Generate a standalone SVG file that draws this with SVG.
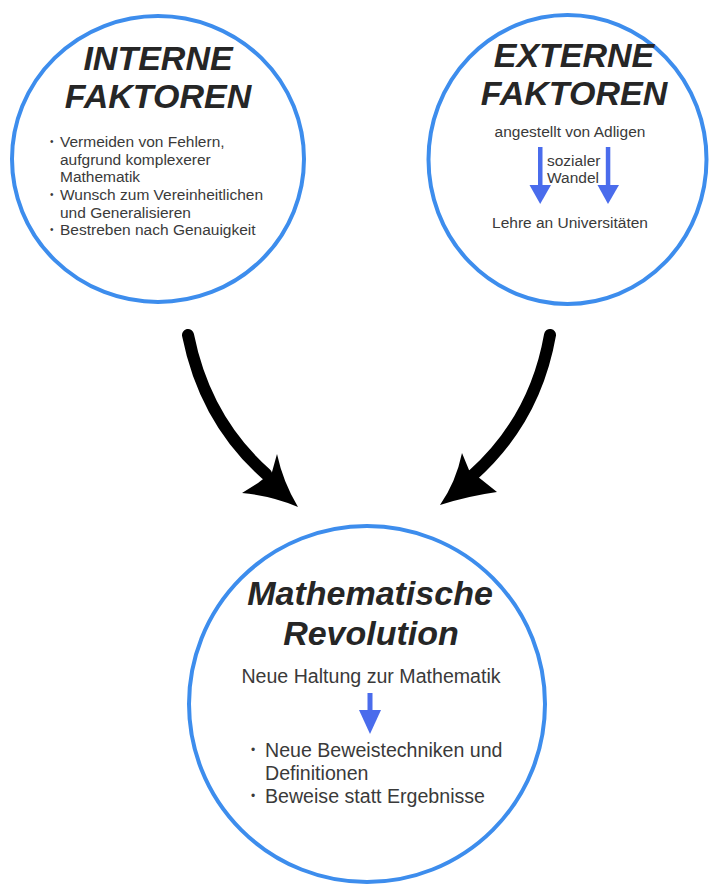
<svg xmlns="http://www.w3.org/2000/svg" width="710" height="886" viewBox="0 0 710 886">
<style>
.ring{fill:#ffffff;stroke:#3d8ded;stroke-width:4}
.title{font-family:"Liberation Sans",Arial,sans-serif;font-weight:bold;font-style:italic;font-size:34px;fill:#262626;text-anchor:middle}
.body{font-family:"Liberation Sans",Arial,sans-serif;font-size:15.5px;fill:#3a3a3a}
.big{font-family:"Liberation Sans",Arial,sans-serif;font-size:19.6px;fill:#3a3a3a}
.bul{font-family:"Liberation Sans",Arial,sans-serif;fill:#3a3a3a}
.mid{text-anchor:middle}
.shaft{fill:none;stroke:#000;stroke-width:12;stroke-linecap:round}
.head{fill:#000}
.blue{fill:#4a6cec}
</style>
<rect width="710" height="886" fill="#ffffff"/>
<g id="connectors">
  <path class="shaft" d="M188,335 Q205,420 266,474"/>
  <path class="head" d="M298,507 Q283,482 277,454 L272,472 L258,483 L242,493 Q272,496 298,507 Z"/>
  <path class="shaft" d="M550,335 Q535,420 472,476"/>
  <path class="head" d="M440,505 Q468,496 497,492 L482,480 L469,470 L462,453 Q456,482 440,505 Z"/>
</g>
<g id="interne">
  <ellipse class="ring" cx="158" cy="159" rx="146" ry="143"/>
  <text class="title" x="158" y="70">INTERNE</text>
  <text class="title" x="158" y="108">FAKTOREN</text>
  <text class="bul" font-size="10" x="50" y="145">•</text>
  <text class="body" x="60" y="147">Vermeiden von Fehlern,</text>
  <text class="body" x="60" y="164.5">aufgrund komplexerer</text>
  <text class="body" x="60" y="182">Mathematik</text>
  <text class="bul" font-size="10" x="50" y="198">•</text>
  <text class="body" x="60" y="200">Wunsch zum Vereinheitlichen</text>
  <text class="body" x="60" y="217.5">und Generalisieren</text>
  <text class="bul" font-size="10" x="50" y="233">•</text>
  <text class="body" x="60" y="235">Bestreben nach Genauigkeit</text>
</g>
<g id="externe">
  <ellipse class="ring" cx="567.5" cy="159.5" rx="139" ry="144.5"/>
  <text class="title" x="574" y="67">EXTERNE</text>
  <text class="title" x="574" y="105">FAKTOREN</text>
  <text class="body mid" x="570" y="137">angestellt von Adligen</text>
  <rect class="blue" x="538" y="147" width="4.5" height="40"/>
  <path class="blue" d="M529.5,185 L551,185 L540.2,204 Z"/>
  <rect class="blue" x="605.8" y="147" width="4.5" height="40"/>
  <path class="blue" d="M597.5,185 L619,185 L608,204 Z"/>
  <text class="body" x="547" y="166">sozialer</text>
  <text class="body" x="547" y="183">Wandel</text>
  <text class="body mid" x="570" y="228">Lehre an Universitäten</text>
</g>
<g id="revolution">
  <circle class="ring" cx="367" cy="704" r="178"/>
  <text class="title" x="370" y="605">Mathematische</text>
  <text class="title" x="371" y="645">Revolution</text>
  <text class="big mid" x="371" y="683">Neue Haltung zur Mathematik</text>
  <rect class="blue" x="367.5" y="693" width="5" height="19"/>
  <path class="blue" d="M359,710 L381,710 L370,734 Z"/>
  <text class="bul" font-size="12" x="251" y="754">•</text>
  <text class="big" x="265" y="757">Neue Beweistechniken und</text>
  <text class="big" x="265" y="780">Definitionen</text>
  <text class="bul" font-size="12" x="251" y="800">•</text>
  <text class="big" x="265" y="803">Beweise statt Ergebnisse</text>
</g>
</svg>
